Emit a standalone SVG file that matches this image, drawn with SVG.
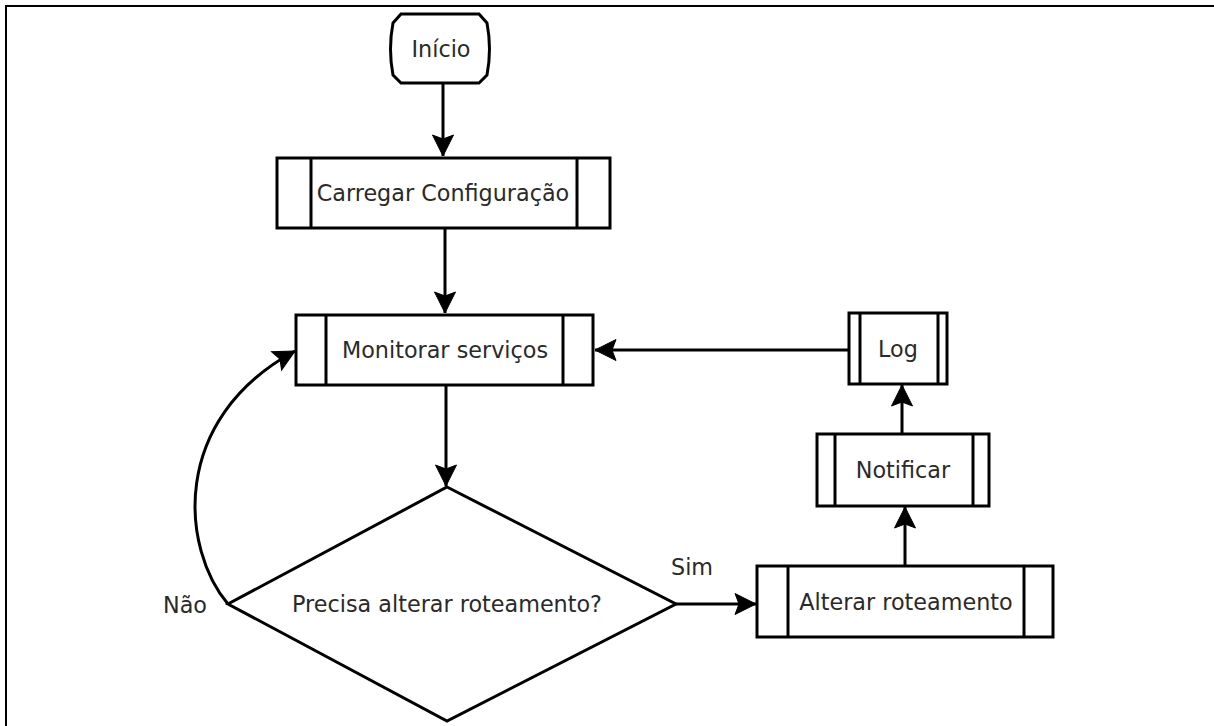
<svg xmlns="http://www.w3.org/2000/svg" width="1214" height="726" viewBox="0 0 1214 726">
  <style>
    .shape { fill: #ffffff; stroke: #000000; stroke-width: 3; stroke-linejoin: miter; }
    .bar { fill: none; stroke: #000000; stroke-width: 3; }
    .edge { fill: none; stroke: #000000; stroke-width: 3; }
    .label { font-family: "DejaVu Sans", "Liberation Sans", sans-serif; font-size: 22.3px; fill: #2a2a2a; text-anchor: middle; }
    .edge-label { font-family: "DejaVu Sans", "Liberation Sans", sans-serif; font-size: 22.3px; fill: #2a2a2a; }
  </style>
  <defs>
    <marker id="arrow" viewBox="-24 -12 26 24" refX="0" refY="0" markerWidth="26" markerHeight="24" markerUnits="userSpaceOnUse" orient="auto">
      <path d="M0,0 L-21,-10.5 L-17,0 L-21,10.5 Z" fill="#000000" stroke="#000000" stroke-width="1" stroke-linejoin="miter"/>
    </marker>
  </defs>

  <rect width="1214" height="726" fill="#ffffff"/>
  <!-- page frame -->
  <rect x="6" y="6" width="1220" height="730" fill="none" stroke="#000000" stroke-width="2"/>

  <!-- connectors -->
  <g id="connectors">
    <path class="edge" d="M443,84 L443,156" marker-end="url(#arrow)"/>
    <path class="edge" d="M445,228 L445,313" marker-end="url(#arrow)"/>
    <path class="edge" d="M446,385 L446,486" marker-end="url(#arrow)"/>
    <path class="edge" d="M676,604 L756,604" marker-end="url(#arrow)"/>
    <path class="edge" d="M905,566 L905,507" marker-end="url(#arrow)"/>
    <path class="edge" d="M902,434 L902,385" marker-end="url(#arrow)"/>
    <path class="edge" d="M849,350 L595,350" marker-end="url(#arrow)"/>
    <path class="edge" d="M228,604 C182,550 168,420 295,351" marker-end="url(#arrow)"/>
    <text class="edge-label" x="163" y="613">Não</text>
    <text class="edge-label" x="671" y="575">Sim</text>
  </g>

  <!-- start terminal -->
  <g id="inicio">
    <path class="shape" d="M401,14 H479 L487,23 Q492,49 487,75 L479,83 H401 L393,75 Q388,49 393,23 Z"/>
    <text class="label" x="441" y="57">Início</text>
  </g>

  <g id="carregar-configuracao">
    <rect class="shape" x="277" y="158" width="333" height="70"/>
    <line class="bar" x1="311" y1="158" x2="311" y2="228"/>
    <line class="bar" x1="577" y1="158" x2="577" y2="228"/>
    <text class="label" x="443" y="201">Carregar Configuração</text>
  </g>

  <g id="monitorar-servicos">
    <rect class="shape" x="296" y="315" width="297" height="70"/>
    <line class="bar" x1="326" y1="315" x2="326" y2="385"/>
    <line class="bar" x1="563" y1="315" x2="563" y2="385"/>
    <text class="label" x="445" y="358">Monitorar serviços</text>
  </g>

  <g id="precisa-alterar">
    <path class="shape" d="M447,487 L676,604 L447,721 L228,604 Z"/>
    <text class="label" x="447" y="612">Precisa alterar roteamento?</text>
  </g>

  <g id="alterar-roteamento">
    <rect class="shape" x="757" y="566" width="296" height="71"/>
    <line class="bar" x1="788" y1="566" x2="788" y2="637"/>
    <line class="bar" x1="1024" y1="566" x2="1024" y2="637"/>
    <text class="label" x="906" y="610">Alterar roteamento</text>
  </g>

  <g id="notificar">
    <rect class="shape" x="817" y="434" width="172" height="72"/>
    <line class="bar" x1="835" y1="434" x2="835" y2="506"/>
    <line class="bar" x1="973" y1="434" x2="973" y2="506"/>
    <text class="label" x="903" y="478">Notificar</text>
  </g>

  <g id="log">
    <rect class="shape" x="849" y="313" width="98" height="71"/>
    <line class="bar" x1="860" y1="313" x2="860" y2="384"/>
    <line class="bar" x1="938" y1="313" x2="938" y2="384"/>
    <text class="label" x="898" y="357">Log</text>
  </g>
</svg>
